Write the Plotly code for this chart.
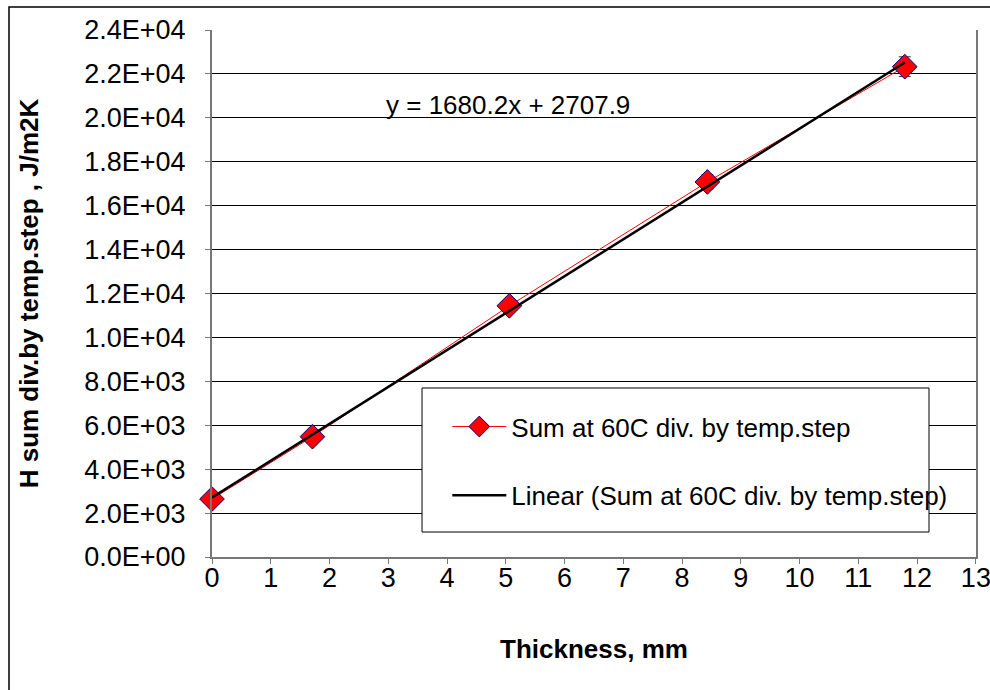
import plotly.graph_objects as go

# Data
thickness_mm = [0.0, 1.71, 5.06, 8.43, 11.79]
h_sum = [2640, 5480, 11440, 17080, 22330]
h_err = [60, 120, 200, 320, 450]
slope = 1680.2
intercept = 2707.9
series_name = "Sum at 60C div. by temp.step"
trend_name = "Linear (Sum at 60C div. by temp.step)"
equation_text = "y = 1680.2x + 2707.9"
y_tick_vals = [0, 2000, 4000, 6000, 8000, 10000, 12000, 14000, 16000, 18000, 20000, 22000, 24000]
y_tick_text = ["0.0E+00", "2.0E+03", "4.0E+03", "6.0E+03", "8.0E+03", "1.0E+04", "1.2E+04",
               "1.4E+04", "1.6E+04", "1.8E+04", "2.0E+04", "2.2E+04", "2.4E+04"]
x_tick_vals = list(range(0, 14))

trend_x = [thickness_mm[0], thickness_mm[-1]]
trend_y = [slope * x + intercept for x in trend_x]

FONT = "Arial, Liberation Sans, sans-serif"
FS = 27

fig = go.Figure()
fig.add_trace(go.Scatter(
    x=thickness_mm, y=h_sum, name=series_name, mode="lines+markers",
    line=dict(color="#ff0000", width=1),
    marker=dict(symbol="diamond", size=19, color="#ff0000",
                line=dict(color="#000080", width=1)),
    error_y=dict(type="data", array=h_err, visible=True, color="#333333",
                 thickness=1, width=6),
    cliponaxis=False,
))
fig.add_trace(go.Scatter(
    x=trend_x, y=trend_y, name=trend_name, mode="lines",
    line=dict(color="#000000", width=2.5),
    cliponaxis=False,
))

fig.add_annotation(x=0.387, y=0.858, xref="paper", yref="paper",
                   xanchor="center", yanchor="middle",
                   text=equation_text, showarrow=False,
                   font=dict(family=FONT, size=FS - 1, color="#000000"))

# outer chart border
fig.add_shape(type="rect", xref="paper", yref="paper",
              x0=-0.2657, y0=-0.4, x1=1.2, y1=1.0436,
              line=dict(color="#000000", width=1.5), fillcolor="rgba(0,0,0,0)",
              layer="below")
# legend box
fig.add_shape(type="rect", xref="paper", yref="paper",
              x0=0.2749, y0=0.0474, x1=0.9385, y1=0.3207,
              line=dict(color="#000000", width=1), fillcolor="#ffffff",
              layer="above")

fig.update_layout(
    width=990, height=690,
    margin=dict(l=212, r=14, t=30, b=133, autoexpand=False),
    paper_bgcolor="#ffffff", plot_bgcolor="#ffffff",
    font=dict(family=FONT, size=FS, color="#000000"),
    showlegend=True,
    legend=dict(x=0.308, y=0.292, xanchor="left", yanchor="top",
                bgcolor="rgba(0,0,0,0)", borderwidth=0,
                font=dict(family=FONT, size=FS - 1, color="#000000"),
                tracegroupgap=32, itemwidth=54),
    xaxis=dict(range=[0, 13.002], tickvals=x_tick_vals, showgrid=False, zeroline=False,
               showline=True, linecolor="#777777", linewidth=2,
               ticks="outside", ticklen=5, tickcolor="#777777",
               ticklabelstandoff=-9, ticklabeloverflow="allow",
               tickfont=dict(family=FONT, size=FS),
               title=dict(text="<b>Thickness, mm</b>", standoff=47,
                          font=dict(family=FONT, size=FS - 1))),
    yaxis=dict(range=[0, 24000], tickvals=y_tick_vals, ticktext=y_tick_text,
               showgrid=True, gridcolor="#000000", gridwidth=1, zeroline=False,
               showline=True, linecolor="#777777", linewidth=2, mirror=True,
               ticks="outside", ticklen=5, tickcolor="#777777",
               ticklabelstandoff=14,
               tickfont=dict(family=FONT, size=FS),
               title=dict(text="<b>H sum div.by temp.step , J/m2K</b>", standoff=38,
                          font=dict(family=FONT, size=FS - 1))),
)
fig.data[0].legendgroup = "a"
fig.data[1].legendgroup = "b"

fig.write_html("out.html", config={"displayModeBar": False},
               post_script="document.body.style.margin='0';")
